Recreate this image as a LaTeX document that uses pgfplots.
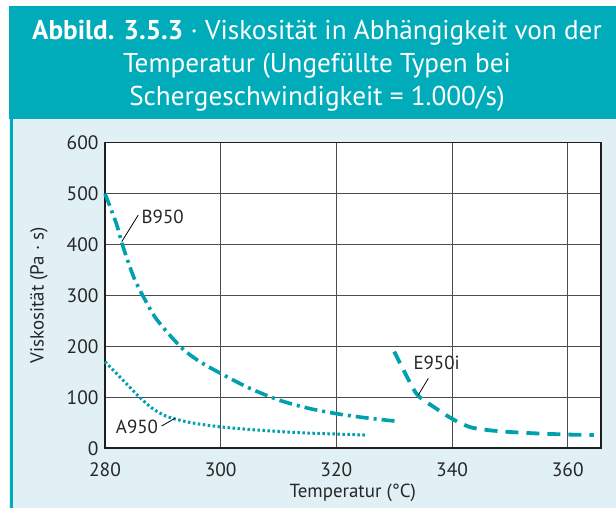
\documentclass[border=0pt]{standalone}
\usepackage{pgfplots}
\pgfplotsset{compat=1.18}
\usepackage{fontspec}
\setmainfont{PT Sans}
\definecolor{headteal}{RGB}{0,172,186}
\definecolor{curveteal}{RGB}{0,160,175}
\definecolor{panelbg}{RGB}{224,240,244}
\begin{document}
\begin{tikzpicture}[x=1bp,y=1bp]
% page, header band and panel
\fill[white] (0,0) rectangle (616,508);
\fill[headteal] (9,389) rectangle (616,502);
\fill[panelbg] (9,0) rectangle (616,389);
\fill[headteal] (9.5,0) rectangle (13,389);
% title
\begin{scope}[every node/.style={text=white,inner sep=0pt,anchor=base,font=\fontsize{27.3}{32}\selectfont}]
\node at (317,468) {\textbf{Abbild. 3.5.3} · Viskosität in Abhängigkeit von der};
\node at (317,435) {Temperatur (Ungefüllte Typen bei};
\node at (317,402) {Schergeschwindigkeit = 1.000/s)};
\end{scope}
\begin{axis}[
  at={(105bp,59.7bp)}, anchor=south west,
  scale only axis, width=495.7bp, height=305.6bp,
  xmin=280, xmax=365.7, ymin=0, ymax=600,
  xtick={280,300,...,360}, ytick={0,100,...,600},
  grid=major,
  major grid style={line width=1.1bp, black!70},
  axis line style={line width=1.6bp, black!88},
  tick style={draw=none},
  axis background/.style={fill=white},
  /pgf/number format/assume math mode=true,
  /pgf/number format/1000 sep={},
  ticklabel style={font=\fontsize{19.5}{22}\selectfont, text=black!85},
  xticklabel style={yshift=-11bp},
  yticklabel style={xshift=-3bp},
  xlabel={Temperatur (°C)},
  ylabel={Viskosität (Pa · s)},
  label style={font=\fontsize{19}{22}\selectfont, text=black!85},
  xlabel style={yshift=0bp},
  ylabel style={yshift=12bp},
  clip=false,
]
% B950
\addplot[curveteal, line width=3.6bp, smooth, dash pattern=on 13bp off 5bp on 3bp off 5bp] coordinates {
 (280,500) (282,440) (283,400) (285,335) (287,290) (289,252) (293,200) (296,173)
 (300,147) (305,118) (310,95) (315,79) (320,68) (325,60) (330.5,53)
};
% A950
\addplot[curveteal, line width=3bp, smooth, dash pattern=on 2.5bp off 2.5bp] coordinates {
 (280,170) (283,135) (286,100) (288,80) (290,66) (292,58) (295,50) (300,42)
 (305,37) (310,33) (315,30) (320,28) (325,26)
};
% E950i
\addplot[curveteal, line width=3.8bp, smooth, dash pattern=on 13bp off 8bp] coordinates {
 (330,190) (332,145) (334,105) (337,80) (340,58) (343,42) (346,36) (350,32)
 (355,29) (360,27) (364.5,26)
};
% series labels with leader lines
\draw[black, line width=0.8bp] (axis cs:282.89,405.6) -- (axis cs:285.76,458.1);
\node[anchor=west, inner sep=0pt, font=\fontsize{19}{22}\selectfont, text=black!85] at (axis cs:286.3,454.7) {B950};
\draw[black, line width=0.8bp] (axis cs:289.8,43.8) -- (axis cs:292.1,58.9);
\node[anchor=east, inner sep=0pt, font=\fontsize{19}{22}\selectfont, text=black!85] at (axis cs:289.2,42.4) {A950};
\draw[black, line width=0.8bp] (axis cs:335.9,137.4) -- (axis cs:334.17,104.7);
\node[anchor=west, inner sep=0pt, font=\fontsize{19}{22}\selectfont, text=black!85] at (axis cs:333.3,166.9) {E950i};
\end{axis}
\end{tikzpicture}
\end{document}
